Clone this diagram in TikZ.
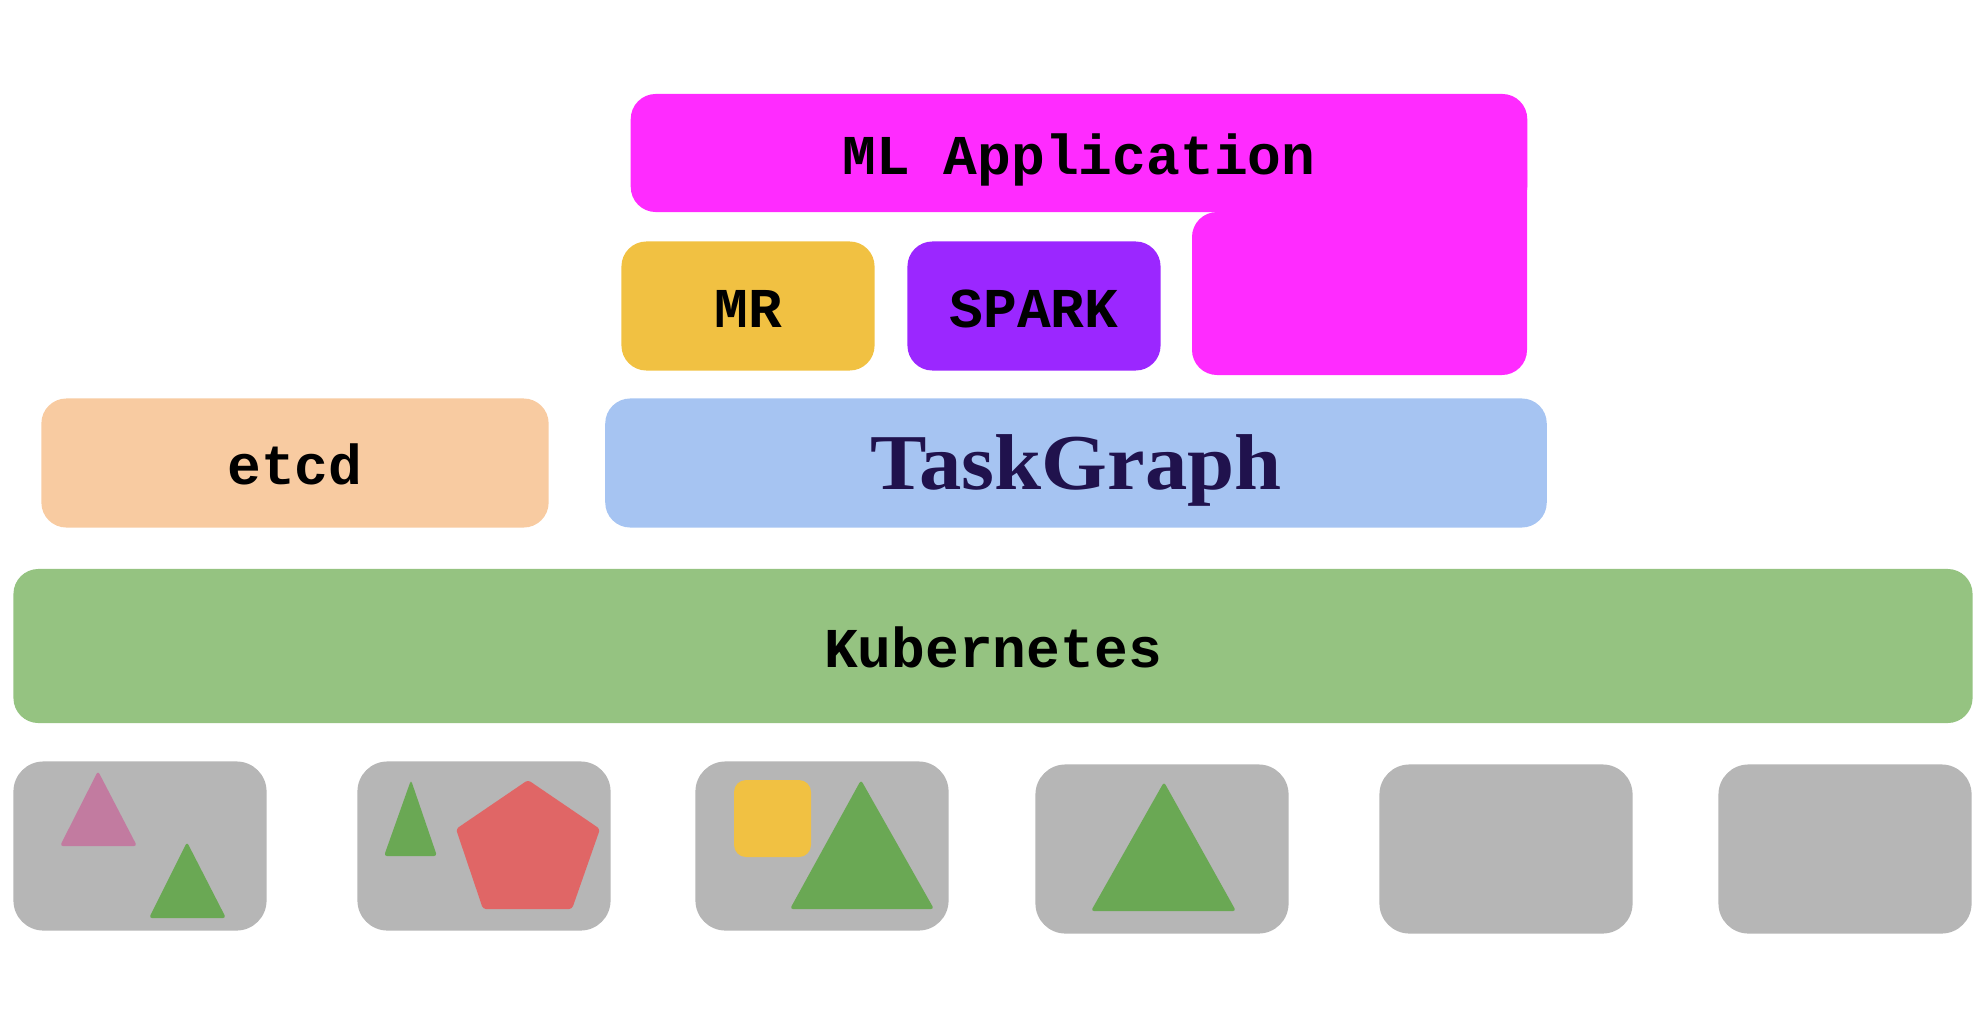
\documentclass[tikz,border=0pt]{standalone}
\usepackage{fontspec}
\setmonofont{Liberation Mono}
\newfontfamily\tgfont[FakeStretch=1.07]{Liberation Serif}
\definecolor{mlpink}{HTML}{FF2BFF}
\definecolor{mryellow}{HTML}{F1C142}
\definecolor{sparkpurple}{HTML}{9B27FF}
\definecolor{etcdpeach}{HTML}{F8CBA1}
\definecolor{tgblue}{HTML}{A6C4F2}
\definecolor{tgtext}{HTML}{20124D}
\definecolor{k8sgreen}{HTML}{95C381}
\definecolor{nodegrey}{HTML}{B6B6B6}
\definecolor{podgreen}{HTML}{6AA854}
\definecolor{podpink}{HTML}{C27BA0}
\definecolor{podred}{HTML}{E06666}
\begin{document}
\begin{tikzpicture}[x=0.01cm, y=-0.01cm,
    layer/.style = {rectangle, rounded corners=0.25cm, inner sep=0pt, text height=14pt, text depth=1.5pt, font=\ttfamily\bfseries\fontsize{16}{19}\selectfont},
    machine/.style = {rectangle, rounded corners=0.3cm, fill=nodegrey, minimum width=2.53cm, minimum height=1.69cm},
    pod/.style = {rounded corners=0.03cm}
  ]
  \useasboundingbox (0,0) rectangle (1988,1018);
  % ML application wraps round the frameworks
  \fill[mlpink, rounded corners=0.25cm] (1527,170) -- (1527,375) -- (1192,375) -- (1192,212) -- (1300,212) [sharp corners] -- (1300,170) -- cycle;
  \node[layer, fill=mlpink, minimum width=8.96cm, minimum height=1.18cm] (ml) at (1079,153) {ML Application};
  \node[layer, fill=mryellow, minimum width=2.53cm, minimum height=1.29cm] (mr) at (748,306) {MR};
  \node[layer, fill=sparkpurple, minimum width=2.53cm, minimum height=1.29cm] (spark) at (1034,306) {SPARK};
  \node[layer, fill=etcdpeach, minimum width=5.07cm, minimum height=1.29cm] (etcd) at (295,463) {etcd};
  \node[layer, fill=tgblue, minimum width=9.41cm, minimum height=1.29cm, text height=17pt, text depth=2.2pt, font=\tgfont\bfseries\fontsize{22.5}{27}\selectfont, text=tgtext] (taskgraph) at (1076,463) {TaskGraph};
  \node[layer, fill=k8sgreen, minimum width=19.58cm, minimum height=1.54cm] (k8s) at (993,646) {Kubernetes};
  % machines
  \foreach \x/\y [count=\i] in {140/846, 484/846, 822/846, 1162/849, 1506/849, 1845/849}
    \node[machine] (m\i) at (\x,\y) {};
  % pods
  \fill[podpink, pod] (98,771) -- (137,846) -- (60,846) -- cycle;
  \fill[podgreen, pod] (187,842) -- (226,918) -- (149,918) -- cycle;
  \fill[podgreen, pod] (411,780) -- (437,856) -- (384,856) -- cycle;
  \fill[podred, pod] (528,780) -- (600,829) -- (572,909) -- (483,909) -- (456,829) -- cycle;
  \fill[mryellow, rounded corners=0.12cm] (734,780) rectangle (811,857);
  \fill[podgreen, pod] (861,780) -- (934,909) -- (790,909) -- cycle;
  \fill[podgreen, pod] (1164,782) -- (1236,911) -- (1091,911) -- cycle;
\end{tikzpicture}
\end{document}
